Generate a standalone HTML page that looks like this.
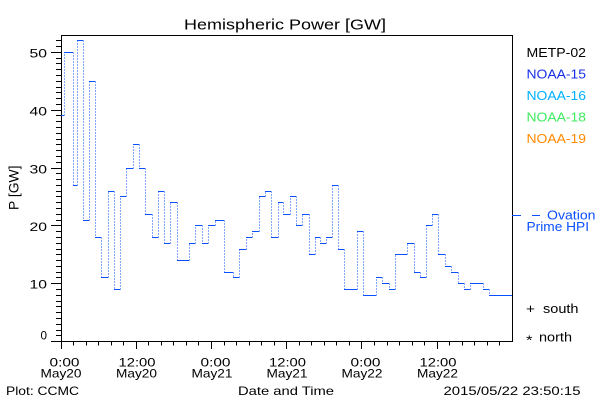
<!DOCTYPE html>
<html><head><meta charset="utf-8"><style>
html,body{margin:0;padding:0;background:#fff;}
svg{display:block;}
text{font-family:"Liberation Sans",sans-serif;}
</style></head><body>
<svg width="600" height="400" viewBox="0 0 600 400" xmlns="http://www.w3.org/2000/svg">
<rect width="600" height="400" fill="#fff"/>
<!-- Title -->
<text x="184" y="29.5" font-size="15" textLength="202" lengthAdjust="spacingAndGlyphs" fill="#000">Hemispheric Power [GW]</text>
<!-- Plot box -->
<g shape-rendering="crispEdges" stroke="#000" stroke-width="1" fill="none">
<rect x="61.5" y="35.5" width="451" height="306"/>
<path d="M51 341.5h10M56 335.5h5M56 330.5h5M56 324.5h5M56 318.5h5M56 312.5h5M56 306.5h5M56 301.5h5M56 295.5h5M56 289.5h5M51 283.5h10M56 277.5h5M56 272.5h5M56 266.5h5M56 260.5h5M56 254.5h5M56 249.5h5M56 243.5h5M56 237.5h5M56 231.5h5M51 225.5h10M56 220.5h5M56 214.5h5M56 208.5h5M56 202.5h5M56 196.5h5M56 191.5h5M56 185.5h5M56 179.5h5M56 173.5h5M51 168.5h10M56 162.5h5M56 156.5h5M56 150.5h5M56 144.5h5M56 139.5h5M56 133.5h5M56 127.5h5M56 121.5h5M56 115.5h5M51 110.5h10M56 104.5h5M56 98.5h5M56 92.5h5M56 87.5h5M56 81.5h5M56 75.5h5M56 69.5h5M56 63.5h5M56 58.5h5M51 52.5h10M56 46.5h5M56 40.5h5"/>
<path d="M61.5 341v8M73.5 341v4.5M86.5 341v4.5M98.5 341v4.5M111.5 341v4.5M123.5 341v4.5M136.5 341v8M148.5 341v4.5M161.5 341v4.5M173.5 341v4.5M186.5 341v4.5M198.5 341v4.5M211.5 341v8M224.5 341v4.5M236.5 341v4.5M249.5 341v4.5M261.5 341v4.5M274.5 341v4.5M286.5 341v8M299.5 341v4.5M311.5 341v4.5M324.5 341v4.5M336.5 341v4.5M349.5 341v4.5M361.5 341v8M374.5 341v4.5M387.5 341v4.5M399.5 341v4.5M412.5 341v4.5M424.5 341v4.5M437.5 341v8M449.5 341v4.5M462.5 341v4.5M474.5 341v4.5M487.5 341v4.5M499.5 341v4.5"/>
</g>
<!-- Y tick labels -->
<g font-size="12" fill="#000">
<text x="29.5" y="57.5" textLength="17.5" lengthAdjust="spacingAndGlyphs">50</text>
<text x="29.5" y="115.5" textLength="17.5" lengthAdjust="spacingAndGlyphs">40</text>
<text x="29.5" y="173.5" textLength="17.5" lengthAdjust="spacingAndGlyphs">30</text>
<text x="29.5" y="231" textLength="17.5" lengthAdjust="spacingAndGlyphs">20</text>
<text x="29.5" y="288.5" textLength="17.5" lengthAdjust="spacingAndGlyphs">10</text>
<text x="40.5" y="339.5" textLength="6.5" lengthAdjust="spacingAndGlyphs">0</text>
</g>
<!-- Y axis title -->
<text transform="translate(18.5,210) rotate(-90)" x="0" y="0" font-size="14" textLength="44.5" lengthAdjust="spacingAndGlyphs" fill="#000">P [GW]</text>
<!-- X tick labels -->
<g font-size="12" fill="#000">
<text x="49.5" y="366.5" textLength="30" lengthAdjust="spacingAndGlyphs">0:00</text>
<text x="40.5" y="377.5" textLength="41" lengthAdjust="spacingAndGlyphs">May20</text>
<text x="118.5" y="366.5" textLength="37" lengthAdjust="spacingAndGlyphs">12:00</text>
<text x="116" y="377.5" textLength="41" lengthAdjust="spacingAndGlyphs">May20</text>
<text x="200.5" y="366.5" textLength="30" lengthAdjust="spacingAndGlyphs">0:00</text>
<text x="191.5" y="377.5" textLength="41" lengthAdjust="spacingAndGlyphs">May21</text>
<text x="269" y="366.5" textLength="37" lengthAdjust="spacingAndGlyphs">12:00</text>
<text x="266.5" y="377.5" textLength="41" lengthAdjust="spacingAndGlyphs">May21</text>
<text x="350.5" y="366.5" textLength="30" lengthAdjust="spacingAndGlyphs">0:00</text>
<text x="341.5" y="377.5" textLength="41" lengthAdjust="spacingAndGlyphs">May22</text>
<text x="419.5" y="366.5" textLength="37" lengthAdjust="spacingAndGlyphs">12:00</text>
<text x="417" y="377.5" textLength="41" lengthAdjust="spacingAndGlyphs">May22</text>
<text x="6" y="395" textLength="73" lengthAdjust="spacingAndGlyphs">Plot: CCMC</text>
<text x="238" y="395" textLength="96" lengthAdjust="spacingAndGlyphs">Date and Time</text>
<text x="443.5" y="395" textLength="137" lengthAdjust="spacingAndGlyphs">2015/05/22 23:50:15</text>
</g>
<!-- Legend -->
<g font-size="12.5">
<text x="526.5" y="57" textLength="59.5" lengthAdjust="spacingAndGlyphs" fill="#000">METP-02</text>
<text x="526.5" y="78.5" textLength="59.5" lengthAdjust="spacingAndGlyphs" fill="#1830e8">NOAA-15</text>
<text x="526.5" y="100" textLength="59.5" lengthAdjust="spacingAndGlyphs" fill="#00b0ff">NOAA-16</text>
<text x="526.5" y="121.5" textLength="59.5" lengthAdjust="spacingAndGlyphs" fill="#40ea60">NOAA-18</text>
<text x="526.5" y="143" textLength="59.5" lengthAdjust="spacingAndGlyphs" fill="#ff8a00">NOAA-19</text>
<text x="547" y="219.5" textLength="48.5" lengthAdjust="spacingAndGlyphs" fill="#0a50ff">Ovation</text>
<text x="526.5" y="231" textLength="62.5" lengthAdjust="spacingAndGlyphs" fill="#0a50ff">Prime HPI</text>
<text x="526" y="313" textLength="9" lengthAdjust="spacingAndGlyphs" fill="#000">+</text>
<text x="543" y="313" textLength="35.5" lengthAdjust="spacingAndGlyphs" fill="#000">south</text>
<text x="526" y="344.5" textLength="6.5" lengthAdjust="spacingAndGlyphs" fill="#000">*</text>
<text x="539" y="341.5" textLength="33" lengthAdjust="spacingAndGlyphs" fill="#000">north</text>
</g>
<path d="M512 215.5h9M532 215.5h8" stroke="#0a50ff" stroke-width="1" shape-rendering="crispEdges"/>
<!-- Series: horizontal steps -->
<path stroke="#0a50ff" stroke-width="1" fill="none" shape-rendering="crispEdges" d="M61 115.5H64M64 52.5H73M73 185.5H77M77 40.5H83M83 220.5H89M89 81.5H95M95 237.5H101M101 277.5H108M108 191.5H114M114 289.5H120M120 196.5H126M126 168.5H133M133 144.5H139M139 168.5H145M145 214.5H152M152 237.5H158M158 191.5H164M164 243.5H170M170 202.5H177M177 260.5H189M189 243.5H195M195 225.5H202M202 243.5H208M208 225.5H215M215 220.5H224M224 272.5H233M233 277.5H239M239 249.5H246M246 237.5H252M252 231.5H259M259 196.5H265M265 191.5H271M271 237.5H278M278 202.5H283M283 214.5H290M290 196.5H296M296 225.5H302M302 214.5H309M309 254.5H315M315 237.5H320M320 243.5H326M326 237.5H332M332 185.5H338M338 249.5H344M344 289.5H357M357 231.5H363M363 295.5H376M376 277.5H382M382 283.5H389M389 289.5H395M395 254.5H407M407 243.5H414M414 272.5H420M420 277.5H426M426 225.5H432M432 214.5H438M438 254.5H445M445 266.5H451M451 272.5H458M458 283.5H464M464 289.5H470M470 283.5H483M483 289.5H489M489 295.5H512"/>
<!-- Series: dotted verticals -->
<path stroke="#0a50ff" stroke-width="1" fill="none" stroke-dasharray="1 2" shape-rendering="crispEdges" d="M64.5 115.5V52.5M73.5 52.5V185.5M77.5 185.5V40.5M83.5 40.5V220.5M89.5 220.5V81.5M95.5 81.5V237.5M101.5 237.5V277.5M108.5 277.5V191.5M114.5 191.5V289.5M120.5 289.5V196.5M126.5 196.5V168.5M133.5 168.5V144.5M139.5 144.5V168.5M145.5 168.5V214.5M152.5 214.5V237.5M158.5 237.5V191.5M164.5 191.5V243.5M170.5 243.5V202.5M177.5 202.5V260.5M189.5 260.5V243.5M195.5 243.5V225.5M202.5 225.5V243.5M208.5 243.5V225.5M215.5 225.5V220.5M224.5 220.5V272.5M233.5 272.5V277.5M239.5 277.5V249.5M246.5 249.5V237.5M252.5 237.5V231.5M259.5 231.5V196.5M265.5 196.5V191.5M271.5 191.5V237.5M278.5 237.5V202.5M283.5 202.5V214.5M290.5 214.5V196.5M296.5 196.5V225.5M302.5 225.5V214.5M309.5 214.5V254.5M315.5 254.5V237.5M320.5 237.5V243.5M326.5 243.5V237.5M332.5 237.5V185.5M338.5 185.5V249.5M344.5 249.5V289.5M357.5 289.5V231.5M363.5 231.5V295.5M376.5 295.5V277.5M382.5 277.5V283.5M389.5 283.5V289.5M395.5 289.5V254.5M407.5 254.5V243.5M414.5 243.5V272.5M420.5 272.5V277.5M426.5 277.5V225.5M432.5 225.5V214.5M438.5 214.5V254.5M445.5 254.5V266.5M451.5 266.5V272.5M458.5 272.5V283.5M464.5 283.5V289.5M470.5 289.5V283.5M483.5 283.5V289.5M489.5 289.5V295.5"/>
</svg>
</body></html>
